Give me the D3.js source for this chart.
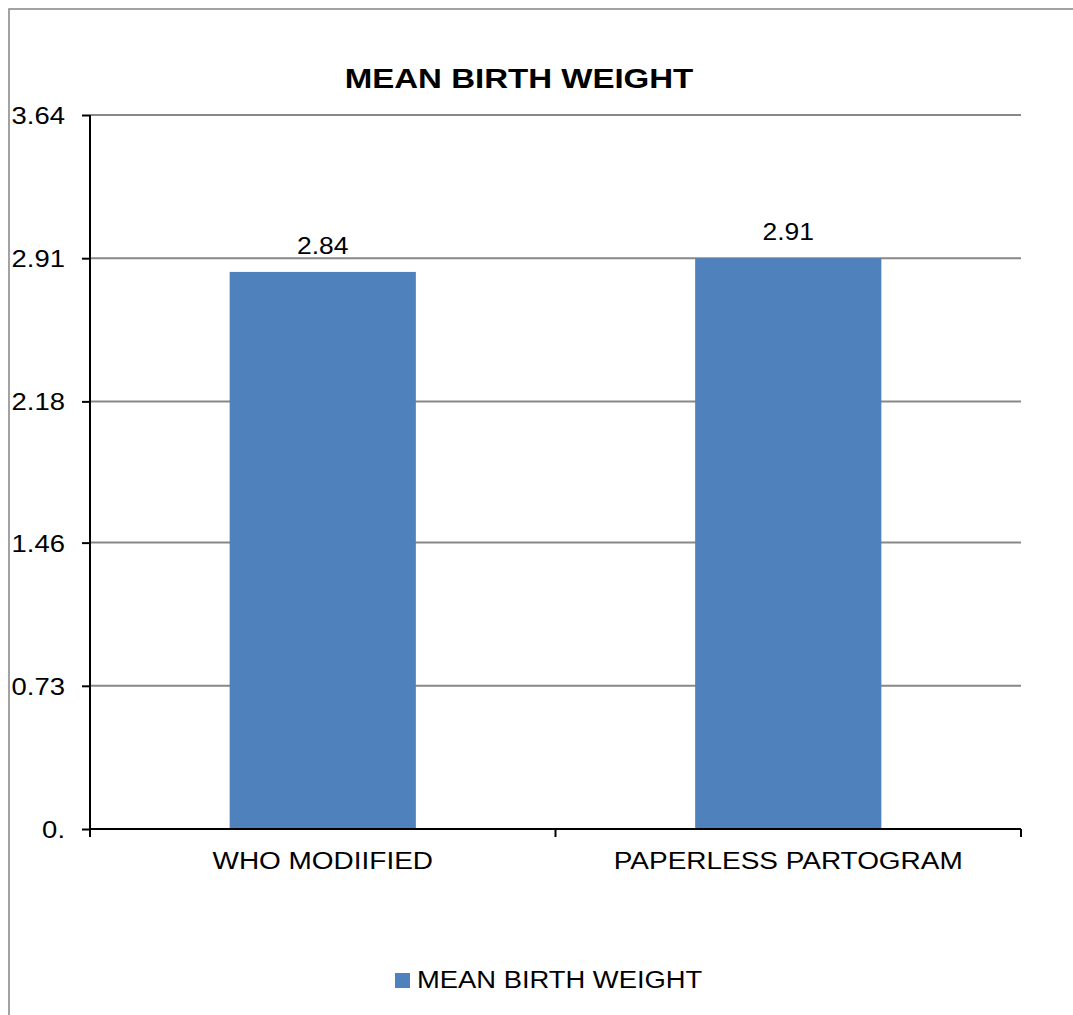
<!DOCTYPE html>
<html>
<head>
<meta charset="utf-8">
<script src="https://cdn.jsdelivr.net/npm/d3@7"></script>
<style>
  html, body { margin: 0; padding: 0; background: #fff; }
  svg { display: block; font-family: "Liberation Sans", Arial, sans-serif; }
</style>
</head>
<body>
<svg id="chart" width="1073" height="1015"></svg>
<script>
// Chart data
const categories = ["WHO MODIIFIED", "PAPERLESS PARTOGRAM"];
const meanBirthWeight = [2.84, 2.91];
const seriesName = "MEAN BIRTH WEIGHT";
const yTicks = [0, 0.73, 1.46, 2.18, 2.91, 3.64];
const yTickLabels = ["0.", "0.73", "1.46", "2.18", "2.91", "3.64"];
const yMax = 3.64;

const svg = d3.select("#chart");
const W = 1073, H = 1015;
const plot = { left: 90, right: 1021, top: 115, bottom: 829 };

const x = d3.scaleBand().domain(categories).range([plot.left, plot.right]).paddingInner(0.6).paddingOuter(0.3);
const xEdge = d3.scaleBand().domain(categories).range([plot.left, plot.right]).padding(0);
const y = d3.scaleLinear().domain([0, yMax]).range([plot.bottom, plot.top]);

// Text drawn slightly wide, stretched horizontally around its anchor
function wideText(g, tx, ty, str, opts) {
  return g.append("text")
    .attr("transform", `translate(${tx},${ty}) scale(${opts.sx || 1.15},1)`)
    .attr("text-anchor", opts.anchor || "middle")
    .attr("font-size", opts.size)
    .attr("font-weight", opts.weight || "normal")
    .attr("fill", "#000")
    .text(str);
}

// Outer frame
svg.append("rect")
  .attr("x", 9).attr("y", 9)
  .attr("width", W + 20).attr("height", H + 20)
  .attr("fill", "none").attr("stroke", "#8c8c8c").attr("stroke-width", 1.6);

// Gridlines
svg.append("g").selectAll("line")
  .data(yTicks.filter(d => d > 0))
  .join("line")
  .attr("x1", plot.left).attr("x2", plot.right)
  .attr("y1", d => y(d)).attr("y2", d => y(d))
  .attr("stroke", "#888888").attr("stroke-width", 2);

// Bars
svg.append("g").selectAll("rect")
  .data(categories.map((c, i) => ({ c, v: meanBirthWeight[i] })))
  .join("rect")
  .attr("x", d => x(d.c))
  .attr("width", x.bandwidth())
  .attr("y", d => y(d.v))
  .attr("height", d => y(0) - y(d.v))
  .attr("fill", "#4f81bd");

// Value labels
const vl = svg.append("g");
categories.forEach((c, i) => {
  wideText(vl, x(c) + x.bandwidth() / 2, y(meanBirthWeight[i]) - 18, meanBirthWeight[i].toFixed(2), { size: 24.5, sx: 1.08 });
});

// Y axis
const yAxis = d3.axisLeft(y).tickValues(yTicks).tickSize(8).tickFormat("");
const gy = svg.append("g").attr("transform", `translate(${plot.left},0)`).call(yAxis);
gy.select(".domain").attr("stroke", "#000").attr("stroke-width", 2).attr("d", `M0,${plot.top}V${plot.bottom}`);
gy.selectAll(".tick line").attr("stroke", "#000").attr("stroke-width", 2);
yTicks.forEach((t, i) => {
  wideText(svg, 65, y(t) + 9, yTickLabels[i], { size: 24.5, anchor: "end", sx: 1.12 });
});

// X axis
const gx = svg.append("g").attr("transform", `translate(0,${plot.bottom})`);
gx.append("line").attr("x1", plot.left).attr("x2", plot.right).attr("stroke", "#000").attr("stroke-width", 2);
const edges = categories.map(c => xEdge(c)).concat([plot.right]);
gx.selectAll("line.tk").data(edges).join("line").attr("class", "tk")
  .attr("x1", d => d).attr("x2", d => d).attr("y1", 0).attr("y2", 8)
  .attr("stroke", "#000").attr("stroke-width", 2);
categories.forEach(c => {
  wideText(svg, x(c) + x.bandwidth() / 2, 869, c, { size: 23.5, sx: 1.19 });
});

// Title
wideText(svg, 519, 88, "MEAN BIRTH WEIGHT", { size: 28, weight: "bold", sx: 1.18 });

// Legend
svg.append("rect").attr("x", 395).attr("y", 973).attr("width", 15).attr("height", 15).attr("fill", "#4f81bd");
wideText(svg, 417, 988, seriesName, { size: 23.5, anchor: "start", sx: 1.165 });
</script>
</body>
</html>
